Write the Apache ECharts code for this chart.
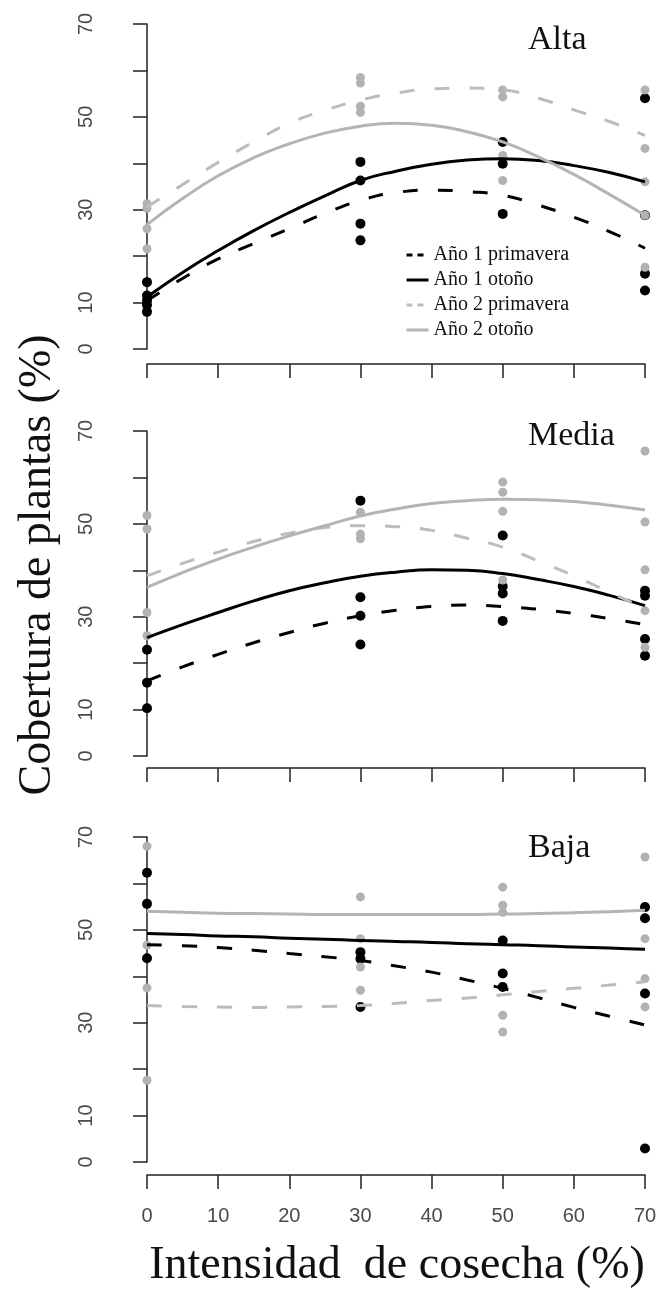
<!DOCTYPE html>
<html>
<head>
<meta charset="utf-8">
<script src="https://cdn.jsdelivr.net/npm/echarts@6/dist/echarts.min.js"></script>
<style>html,body{margin:0;padding:0;background:#fff}#c{width:661px;height:1300px}</style>
</head>
<body>
<div id="c"></div>
<script>
// ---- data ----
const xFit = [0, 5, 10, 15, 20, 25, 30, 35, 40, 45, 50, 55, 60, 65, 70];
const xTicks = [0, 10, 20, 30, 40, 50, 60, 70];
const yTickLabels = [0, 10, 30, 50, 70];
const panelTitles = ['Alta', 'Media', 'Baja'];
const seriesNames = ['Año 1 primavera', 'Año 1 otoño', 'Año 2 primavera', 'Año 2 otoño'];

// Alta
const altaA1P = [10.4, 15.2, 19.4, 22.7, 25.9, 29.2, 32.0, 33.7, 34.2, 33.9, 33.1, 31.0, 28.4, 25.3, 21.7];
const altaA1O = [11.2, 16.5, 21.2, 25.5, 29.4, 33.0, 36.3, 38.3, 39.8, 40.7, 41.0, 40.6, 39.5, 38.0, 36.0];
const altaA2P = [30.6, 35.4, 40.2, 44.6, 48.6, 51.4, 53.6, 55.1, 56.0, 56.2, 55.8, 54.0, 51.5, 49.0, 46.0];
const altaA2O = [26.8, 32.4, 37.3, 41.2, 44.2, 46.5, 48.0, 48.6, 48.2, 46.8, 44.6, 41.4, 37.6, 33.3, 28.8];
const altaPtsA1 = [[0,14.4],[0,11.5],[0,10.5],[0,9.5],[0,8.0],[30,40.3],[30,36.3],[30,27.0],[30,23.4],[50,44.6],[50,39.9],[50,29.1],[70,54.0],[70,28.8],[70,16.2],[70,12.6]];
const altaPtsA2 = [[0,31.3],[0,30.3],[0,25.9],[0,21.6],[30,58.5],[30,57.3],[30,52.3],[30,51.0],[50,55.8],[50,54.3],[50,41.7],[50,36.3],[70,55.8],[70,43.2],[70,36.0],[70,28.8],[70,17.6]];

// Media
const mediaA1P = [16.2, 19.2, 21.9, 24.4, 26.6, 28.6, 30.2, 31.4, 32.2, 32.5, 32.2, 31.6, 30.7, 29.6, 28.3];
const mediaA1O = [25.5, 28.3, 30.9, 33.4, 35.6, 37.3, 38.7, 39.6, 40.1, 40.0, 39.3, 38.0, 36.5, 34.6, 32.4];
const mediaA2P = [38.8, 41.5, 43.9, 46.2, 48.0, 49.2, 49.6, 49.4, 48.6, 46.9, 45.0, 42.0, 38.8, 35.3, 31.7];
const mediaA2O = [36.3, 39.5, 42.4, 45.0, 47.4, 49.6, 51.7, 53.2, 54.4, 55.0, 55.3, 55.2, 54.8, 54.0, 53.0];
const mediaPtsA1 = [[0,22.9],[0,15.8],[0,10.3],[30,55.0],[30,34.2],[30,30.2],[30,24.0],[50,47.5],[50,36.5],[50,35.0],[50,29.1],[70,35.6],[70,34.5],[70,25.2],[70,21.6]];
const mediaPtsA2 = [[0,51.8],[0,48.9],[0,30.9],[0,25.9],[30,52.5],[30,47.8],[30,46.8],[50,59.0],[50,56.8],[50,52.7],[50,37.9],[70,65.7],[70,50.4],[70,40.1],[70,31.3],[70,23.4]];

// Baja
const bajaA1P = [46.8, 46.6, 46.2, 45.6, 44.9, 44.2, 43.4, 42.2, 40.9, 39.2, 37.4, 35.4, 33.3, 31.4, 29.5];
const bajaA1O = [49.2, 49.0, 48.7, 48.5, 48.2, 48.0, 47.7, 47.5, 47.3, 47.0, 46.8, 46.6, 46.3, 46.1, 45.8];
const bajaA2P = [33.7, 33.5, 33.4, 33.3, 33.4, 33.5, 33.7, 34.2, 34.8, 35.3, 36.0, 36.7, 37.4, 38.1, 38.8];
const bajaA2O = [54.0, 53.8, 53.6, 53.5, 53.4, 53.3, 53.3, 53.3, 53.3, 53.3, 53.4, 53.5, 53.7, 53.9, 54.2];
const bajaPtsA1 = [[0,62.3],[0,55.6],[0,43.9],[30,45.2],[30,43.8],[30,33.4],[50,47.7],[50,40.6],[50,37.7],[70,54.9],[70,52.5],[70,36.3],[70,2.9]];
const bajaPtsA2 = [[0,68.0],[0,46.7],[0,37.5],[0,17.6],[30,57.1],[30,48.1],[30,42.0],[30,37.0],[50,59.2],[50,55.3],[50,53.8],[50,31.6],[50,28.0],[70,65.7],[70,48.1],[70,39.5],[70,33.4]];

// ---- layout / style ----
const panels = [
  {fits: [altaA1P, altaA1O, altaA2P, altaA2O], pts1: altaPtsA1, pts2: altaPtsA2, top: 24, xOffset: 15, titleY: 42},
  {fits: [mediaA1P, mediaA1O, mediaA2P, mediaA2O], pts1: mediaPtsA1, pts2: mediaPtsA2, top: 431, xOffset: 12, titleY: 438},
  {fits: [bajaA1P, bajaA1O, bajaA2P, bajaA2O], pts1: bajaPtsA1, pts2: bajaPtsA2, top: 837, xOffset: 13, titleY: 850}
];
const BLACK = '#000000', GRAYPT = '#b2b2b2', GRAYLINE = '#b4b4b4', GRAYDASH = '#bcbcbc';
const lineStyles = [
  {color: BLACK, width: 3, type: [15, 20]},
  {color: BLACK, width: 3, type: 'solid'},
  {color: GRAYDASH, width: 3, type: [15, 20]},
  {color: GRAYLINE, width: 3, type: 'solid'}
];
const AXIS = '#222';
const SERIF = '"Liberation Serif", "Times New Roman", serif';
const SANS = '"Liberation Sans", Arial, sans-serif';

const grid = [], xAxis = [], yAxis = [], series = [], graphic = [];
panels.forEach((p, i) => {
  grid.push({left: 147, width: 498, top: p.top, height: 325});
  xAxis.push({
    type: 'value', gridIndex: i, min: 0, max: 70, interval: 10, offset: p.xOffset,
    axisLine: {show: true, onZero: false, lineStyle: {color: AXIS, width: 1.5}},
    axisTick: {show: true, length: 14, lineStyle: {color: AXIS, width: 1.5}},
    axisLabel: {show: i === 2, margin: 31, fontSize: 20, fontFamily: SANS, color: '#4a4a4a',
      formatter: v => xTicks.includes(v) ? String(v) : ''},
    splitLine: {show: false}
  });
  yAxis.push({
    type: 'value', gridIndex: i, min: 0, max: 70, interval: 10, offset: 22,
    axisLine: {show: true, lineStyle: {color: AXIS, width: 1.5}},
    axisTick: {show: true, length: 14, lineStyle: {color: AXIS, width: 1.5}},
    axisLabel: {show: true, rotate: 90, margin: 29, fontSize: 20, fontFamily: SANS, color: '#4a4a4a',
      formatter: v => yTickLabels.includes(v) ? String(v) : ''},
    splitLine: {show: false}
  });
  series.push({type: 'scatter', name: 'pts1', xAxisIndex: i, yAxisIndex: i, data: p.pts1,
    symbolSize: 10, itemStyle: {color: BLACK, opacity: 1}, z: 2});
  series.push({type: 'scatter', name: 'pts2', xAxisIndex: i, yAxisIndex: i, data: p.pts2,
    symbolSize: 9, itemStyle: {color: GRAYPT, opacity: 1}, z: 2});
  p.fits.forEach((arr, k) => {
    series.push({type: 'line', name: seriesNames[k], xAxisIndex: i, yAxisIndex: i,
      data: xFit.map((x, j) => [x, arr[j]]), smooth: true, symbol: 'none',
      lineStyle: lineStyles[k], itemStyle: {color: lineStyles[k].color}, z: 3});
  });
  graphic.push({type: 'text', left: 528, top: p.titleY - 19,
    style: {text: panelTitles[i], font: '34px ' + SERIF, fill: '#111'}});
});

graphic.push({type: 'text', x: 38, y: 565, rotation: Math.PI / 2,
  style: {text: 'Cobertura de plantas (%)', font: '46px ' + SERIF, fill: '#111', align: 'center', verticalAlign: 'middle'}});
graphic.push({type: 'text', x: 397, y: 1266,
  style: {text: 'Intensidad  de cosecha (%)', font: '46px ' + SERIF, fill: '#111', align: 'center', verticalAlign: 'middle'}});

const legendLine = [
  {color: BLACK, width: 3, type: [6, 5]},
  {color: BLACK, width: 3, type: 'solid'},
  {color: GRAYDASH, width: 3, type: [6, 5]},
  {color: GRAYLINE, width: 3, type: 'solid'}
];

const chart = echarts.init(document.getElementById('c'), null, {renderer: 'canvas'});
chart.setOption({
  backgroundColor: '#ffffff',
  animation: false,
  grid, xAxis, yAxis, series, graphic,
  legend: {
    show: true, padding: 0,
    orient: 'vertical', left: 405, top: 245, itemWidth: 22, itemHeight: 12, itemGap: 5,
    selectedMode: false,
    textStyle: {fontFamily: SERIF, fontSize: 20, color: '#111'},
    data: seriesNames.map((n, k) => ({name: n, lineStyle: legendLine[k], itemStyle: {opacity: 0}}))
  }
});
</script>
</body>
</html>
